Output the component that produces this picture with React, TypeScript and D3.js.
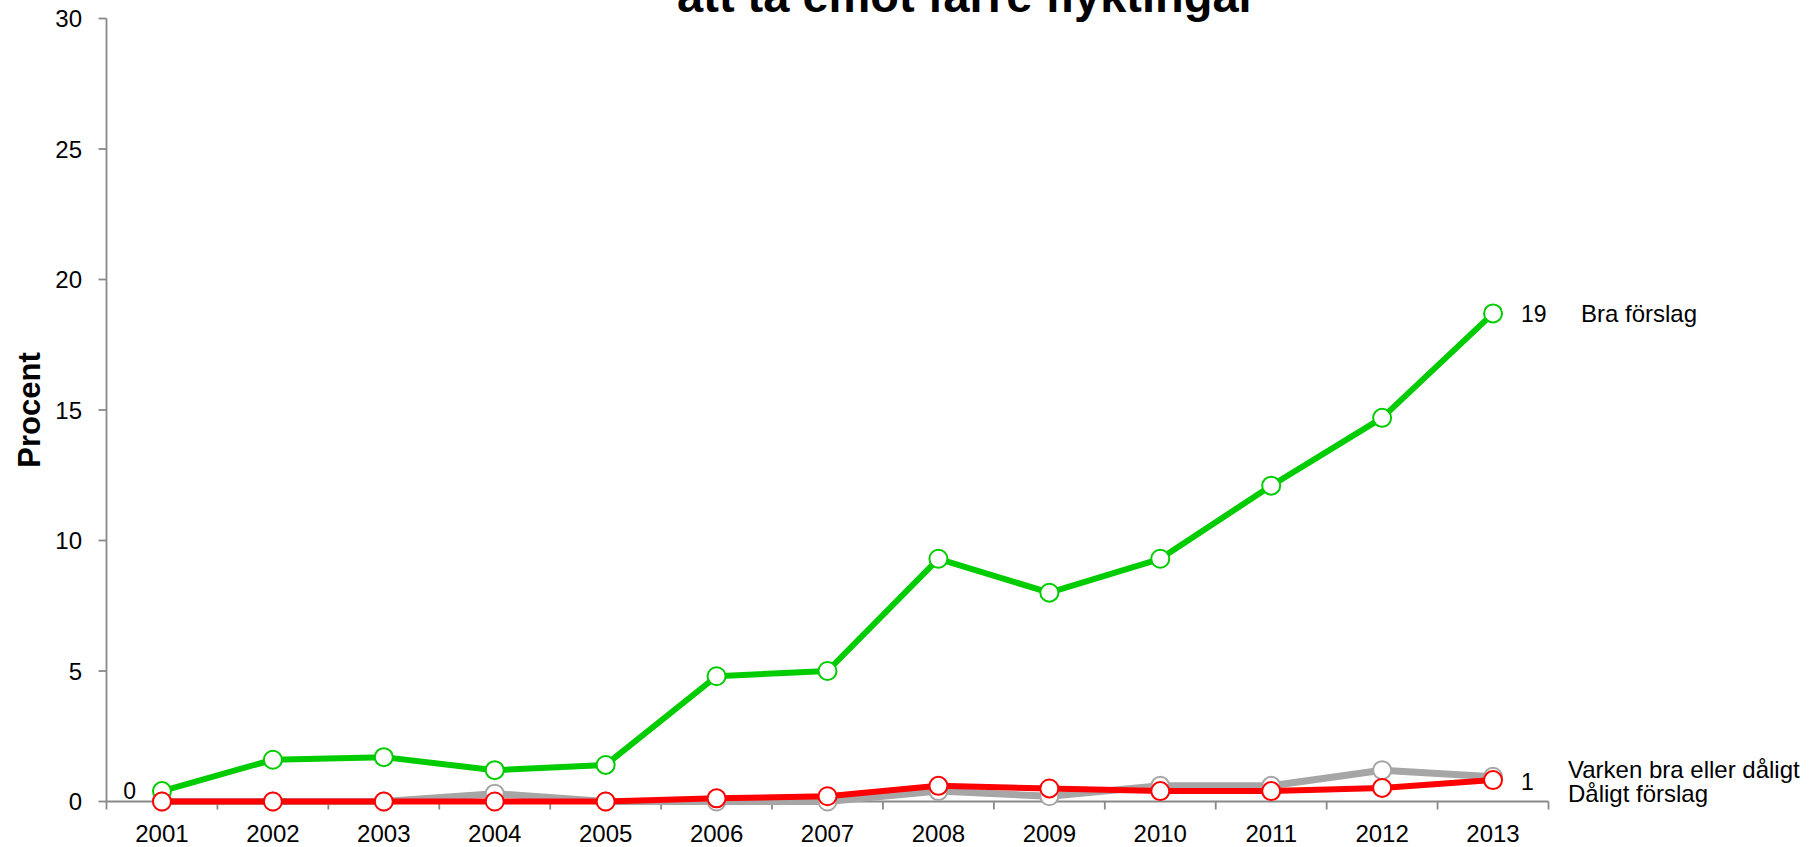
import React from 'react';
import * as d3 from 'd3';

// chart data
const years = ['2001', '2002', '2003', '2004', '2005', '2006', '2007', '2008', '2009', '2010', '2011', '2012', '2013'];
const braForslag = [0.4, 1.6, 1.7, 1.2, 1.4, 4.8, 5.0, 9.3, 8.0, 9.3, 12.1, 14.7, 18.7];
const varkenBraEllerDaligt = [0, 0, 0, 0.3, 0, 0, 0, 0.4, 0.2, 0.6, 0.6, 1.2, 0.95];
const daligtForslag = [0, 0, 0, 0, 0, 0.12, 0.2, 0.6, 0.5, 0.4, 0.4, 0.52, 0.82];
const yTicks = [0, 5, 10, 15, 20, 25, 30];

const title = 'att ta emot färre flyktingar';
const yTitle = 'Procent';

const font = '"Liberation Sans", Arial, sans-serif';

// drawing order: green first, red on top
const series = [
  { name: 'Bra förslag', values: braForslag, color: '#00CC00', width: 6 },
  { name: 'Varken bra eller dåligt', values: varkenBraEllerDaligt, color: '#A6A6A6', width: 7 },
  { name: 'Dåligt förslag', values: daligtForslag, color: '#FF0000', width: 6 },
];

export default function App() {
  const W = 1812;
  const H = 847;
  const left = 106.5;
  const right = 1548.5;
  const top = 18.5;
  const bottom = 801.5;

  const y = d3.scaleLinear().domain([0, 30]).range([bottom, top]);
  const band = d3.scaleBand().domain(years).range([left, right]);
  const x = (yr: string) => (band(yr) as number) + band.bandwidth() / 2;

  const line = d3
    .line<number>()
    .x((_, i) => x(years[i]))
    .y(d => y(d));

  const xTickPos = years.map(yr => band(yr) as number).concat([right]);
  const last = years.length - 1;
  const axisColor = '#898989';

  return (
    <>
      <style>{'body{margin:0}'}</style>
      <svg width={W} height={H} style={{ display: 'block', fontFamily: font }}>
        <rect width={W} height={H} fill="#fff" />

        {/* title, top line is cut off in the reference */}
        <text x={967} y={12} textAnchor="middle" fontSize={47} fontWeight="bold" fill="#000">
          {title}
        </text>

        {/* y axis */}
        <line x1={left} x2={left} y1={top} y2={bottom} stroke={axisColor} strokeWidth={1.8} />
        {yTicks.map(t => (
          <g key={t}>
            <line x1={left - 8} x2={left} y1={y(t)} y2={y(t)} stroke={axisColor} strokeWidth={1.8} />
            <text x={82} y={y(t)} dy="0.36em" textAnchor="end" fontSize={24} fill="#000">
              {t}
            </text>
          </g>
        ))}
        <text
          transform={`translate(40,${(top + bottom) / 2}) rotate(-90)`}
          textAnchor="middle"
          fontSize={31}
          fontWeight="bold"
          fill="#000"
        >
          {yTitle}
        </text>

        {/* x axis */}
        <line x1={left} x2={right} y1={bottom} y2={bottom} stroke={axisColor} strokeWidth={1.8} />
        {xTickPos.map((p, i) => (
          <line key={i} x1={p} x2={p} y1={bottom} y2={bottom + 8} stroke={axisColor} strokeWidth={1.8} />
        ))}
        {years.map(yr => (
          <text key={yr} x={x(yr)} y={842} textAnchor="middle" fontSize={24} fill="#000">
            {yr}
          </text>
        ))}

        {/* series */}
        {series.map(s => (
          <g key={s.name}>
            <path d={line(s.values) || ''} fill="none" stroke={s.color} strokeWidth={s.width} strokeLinejoin="round" />
            {s.values.map((v, i) => (
              <circle key={i} cx={x(years[i])} cy={y(v)} r={9} fill="#fff" stroke={s.color} strokeWidth={2} />
            ))}
          </g>
        ))}

        {/* data labels */}
        <text x={x(years[0]) - 26} y={y(braForslag[0])} dy="0.36em" textAnchor="end" fontSize={23} fill="#000">
          {Math.round(braForslag[0])}
        </text>
        <text x={x(years[last]) + 28} y={y(braForslag[last])} dy="0.36em" fontSize={23} fill="#000">
          {Math.round(braForslag[last])}
        </text>
        <text x={x(years[last]) + 28} y={y(daligtForslag[last]) + 2} dy="0.36em" fontSize={23} fill="#000">
          {Math.round(daligtForslag[last])}
        </text>

        {/* series names */}
        <text x={1581} y={y(braForslag[last])} dy="0.36em" fontSize={24} fill="#000">
          {series[0].name}
        </text>
        <text x={1568} y={778} fontSize={24} fill="#000">
          {series[1].name}
        </text>
        <text x={1568} y={802} fontSize={24} fill="#000">
          {series[2].name}
        </text>
      </svg>
    </>
  );
}
